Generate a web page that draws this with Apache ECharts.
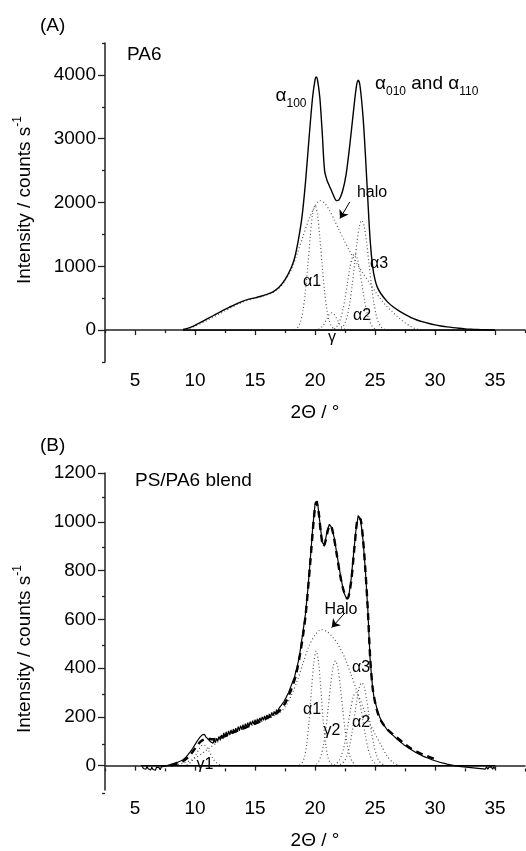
<!DOCTYPE html>
<html><head><meta charset="utf-8">
<script src="https://cdn.jsdelivr.net/npm/echarts@6/dist/echarts.min.js"></script>
<style>html,body{margin:0;padding:0;background:#fff}#c{width:526px;height:851px}</style>
</head><body><div id="c"></div><script>
// ---------- data ----------
const xMajor = [5, 10, 15, 20, 25, 30, 35];
const xMinor = [2.5, 7.5, 12.5, 17.5, 22.5, 27.5, 32.5, 37.5];
const aYMajor = [0, 1000, 2000, 3000, 4000];
const aYMinor = [-500, 500, 1500, 2500, 3500, 4500];
const bYMajor = [0, 200, 400, 600, 800, 1000, 1200];
const bYMinor = [-100, 100, 300, 500, 700, 900, 1100];

// Panel A: PA6
const aMain = [[9.0,10],[9.5,35],[10,75],[10.5,125],[11,175],[11.5,225],[12,275],[12.5,325],[13,370],[13.5,415],[14,455],[14.5,485],[15,505],[15.5,530],[16,560],[16.5,600],[17,670],[17.5,790],[18,970],[18.3,1130],[18.6,1400],[18.9,1750],[19.2,2300],[19.5,3000],[19.8,3650],[20.0,3920],[20.1,3968],[20.2,3930],[20.4,3650],[20.6,3100],[20.8,2500],[21.0,2350],[21.2,2260],[21.5,2130],[21.8,2030],[22.0,2040],[22.3,2180],[22.6,2450],[22.9,2900],[23.2,3420],[23.45,3820],[23.6,3915],[23.75,3830],[24.0,3350],[24.2,2750],[24.4,2050],[24.6,1400],[24.8,1000],[25.0,790],[25.2,670],[25.5,570],[26.0,450],[26.5,365],[27.0,300],[27.5,245],[28,195],[28.5,158],[29,128],[29.5,103],[30,82],[30.5,65],[31,50],[31.5,38],[32,28],[32.5,20],[33,14],[33.5,9],[34,6],[34.5,3],[35,2]];
const aHalo = [[9,0],[9.5,25],[10,60],[10.5,105],[11,150],[11.5,200],[12,250],[12.5,300],[13,350],[13.5,400],[14,440],[14.5,475],[15,500],[15.5,525],[16,555],[16.5,595],[17,660],[17.5,770],[18,940],[18.5,1190],[19,1470],[19.5,1740],[20,1940],[20.4,2030],[20.8,1990],[21.2,1880],[21.6,1730],[22,1570],[22.5,1380],[23,1200],[23.5,1040],[24,890],[24.5,750],[25,610],[25.5,480],[26,370],[26.5,275],[27,190],[27.5,115],[28,55],[28.5,15],[29,0]];
const aAlpha1 = [[18,0],[18.2,5],[18.4,17],[18.6,52],[18.8,136],[19,308],[19.2,599],[19.4,1005],[19.6,1456],[19.8,1819],[20,1958],[20.2,1819],[20.4,1456],[20.6,1005],[20.8,599],[21,308],[21.2,136],[21.4,52],[21.6,17],[21.8,5],[22,0]];
const aGamma = [[20,0],[20.2,8],[20.4,23],[20.6,56],[20.8,111],[21,182],[21.2,245],[21.4,270],[21.6,245],[21.8,182],[22,111],[22.2,56],[22.4,23],[22.6,8],[22.8,0]];
const aAlpha2 = [[21.3,5],[21.5,13],[21.7,34],[21.9,79],[22.1,162],[22.3,299],[22.5,493],[22.7,728],[22.9,961],[23.1,1135],[23.3,1200],[23.5,1135],[23.7,961],[23.9,728],[24.1,493],[24.3,299],[24.5,162],[24.7,79],[24.9,34],[25.1,13],[25.3,5]];
const aAlpha3 = [[21.9,7],[22.1,19],[22.3,49],[22.5,113],[22.7,233],[22.9,429],[23.1,707],[23.3,1043],[23.5,1378],[23.7,1627],[23.9,1720],[24.1,1627],[24.3,1378],[24.5,1043],[24.7,707],[24.9,429],[25.1,233],[25.3,113],[25.5,49],[25.7,19],[25.9,7]];
const aBase = [[9,0],[35,0]];
const aArrow = [[22.9,2010],[22.08,1748]];

// Panel B: PS/PA6 blend (noisy measured curve)
const bMain = [[5.6,-3],[5.7,-12],[5.8,-6],[5.9,-15],[6.0,-4],[6.1,-13],[6.2,-9],[6.3,-18],[6.4,-7],[6.5,-16],[6.6,-10],[6.7,-19],[6.8,-6],[6.9,-14],[7.0,-8],[7.1,-17],[7.2,-5],[7.3,-12],[7.4,-3],[7.5,-11],[7.6,-1],[7.7,-9],[7.8,2],[7.9,-6],[8.0,5],[8.1,-2],[8.2,8],[8.3,1],[8.4,12],[8.5,4],[8.6,15],[8.7,8],[8.8,19],[8.9,12],[9.0,24],
[9.1,18],[9.2,32],[9.3,28],[9.4,44],[9.5,38],[9.6,56],[9.7,52],[9.8,70],[9.9,66],[10.0,86],[10.1,84],[10.2,102],[10.3,98],[10.4,116],[10.5,112],[10.6,126],[10.7,120],[10.8,128],[10.9,118],[11.0,124],[11.1,108],[11.2,114],[11.3,98],[11.4,104],[11.5,92],[11.6,106],[11.7,94],[11.8,112],[11.9,100],[12.0,120],[12.1,106],[12.2,126],[12.3,112],[12.4,134],[12.5,116],[12.6,138],[12.7,120],[12.8,142],[12.9,126],[13.0,146],[13.1,130],[13.2,150],[13.3,134],[13.4,154],[13.5,138],[13.6,160],[13.7,144],[13.8,164],[13.9,148],[14.0,168],[14.1,152],[14.2,172],[14.3,158],[14.4,176],[14.5,160],[14.6,180],[14.7,166],[14.8,184],[14.9,170],[15.0,188],[15.1,174],[15.2,192],[15.3,178],[15.4,196],[15.5,182],[15.6,200],[15.7,186],[15.8,204],[15.9,192],[16.0,208],[16.1,196],[16.2,212],[16.3,200],[16.4,218],[16.5,204],[16.6,222],[16.7,210],[16.8,230],[16.9,218],[17.0,236],[17.1,228],[17.2,248],[17.3,240],[17.4,262],[17.5,256],[17.6,280],[17.7,276],[17.8,300],[17.9,300],[18.0,326],[18.1,330],[18.2,352],[18.3,364],[18.4,386],[18.5,402],[18.6,425],[18.7,450],[18.8,482],
[19.0,550],[19.2,620],[19.4,720],[19.6,840],[19.8,970],[20.0,1070],[20.2,1085],[20.4,1000],[20.6,915],[20.8,905],[21.0,960],[21.2,990],[21.4,975],[21.6,935],[21.8,875],[22.0,815],[22.2,760],[22.4,710],[22.6,688],[22.8,690],[23.0,760],[23.2,860],[23.4,960],[23.6,1025],[23.8,1010],[24.0,925],[24.2,800],[24.4,640],[24.6,430],[24.8,320],
[24.9,285],[25.0,262],[25.1,246],[25.2,226],[25.3,212],[25.4,198],[25.5,190],[25.6,176],[25.7,174],[25.8,162],[25.9,160],[26.0,148],[26.1,150],[26.2,138],[26.3,140],[26.4,128],[26.5,132],[26.6,120],[26.7,122],[26.8,110],[26.9,114],[27.0,102],[27.1,106],[27.2,94],[27.3,98],[27.4,86],[27.5,90],[27.6,79],[27.7,83],[27.8,72],[27.9,77],[28.0,66],[28.1,70],[28.2,60],[28.3,64],[28.4,54],[28.5,59],[28.6,49],[28.7,54],[28.8,44],[28.9,48],[29.0,39],[29.1,44],[29.2,35],[29.3,39],[29.4,31],[29.5,35],[29.6,27],[29.7,31],[29.8,23],[29.9,28],[30.0,20],[30.1,24],[30.2,17],[30.3,21],[30.4,14],[30.5,18],[30.6,11],[30.7,16],[30.8,9],[30.9,13],[31.0,6],[31.1,11],[31.2,4],[31.3,9],[31.4,2],[31.5,8],[31.6,0],[31.7,6],[31.8,-1],[31.9,5],[32.0,-3],[32.1,4],[32.2,-4],[32.3,3],[32.4,-5],[32.5,2],[32.6,-6],[32.7,1],[32.8,-7],[32.9,0],[33.0,-8],[33.1,-1],[33.2,-9],[33.3,-2],[33.4,-10],[33.5,-3],[33.6,-11],[33.7,-3],[33.8,-12],[33.9,-4],[34.0,-13],[34.1,-5],[34.2,-14],[34.3,-5],[34.4,-15],[34.5,-6],[34.6,-14],[34.7,-5],[34.8,-15],[34.9,-6],[35.0,-12]];
const bFit = [[8,0],[8.5,8],[9,18],[9.5,38],[10,70],[10.5,100],[11,110],[11.5,108],[12,112],[12.5,122],[13,132],[13.5,142],[14,152],[14.5,162],[15,172],[15.5,183],[16,195],[16.5,207],[17,222],[17.5,255],[18,310],[18.4,370],[18.8,470],[19.2,610],[19.6,830],[19.9,1010],[20.1,1080],[20.3,1040],[20.5,950],[20.7,900],[20.9,925],[21.1,970],[21.3,985],[21.5,955],[21.8,870],[22.1,780],[22.4,715],[22.7,685],[23.0,750],[23.3,900],[23.6,1015],[23.8,1010],[24.0,930],[24.2,800],[24.4,640],[24.6,440],[24.8,320],[25.0,262],[25.3,205],[25.6,176],[26,150],[26.5,128],[27,108],[27.5,88],[28,70],[28.5,57],[29,45],[29.5,36],[30,27]];
const bHalo = [[8,0],[9,10],[10,30],[11,65],[12,100],[13,130],[14,150],[15,170],[16,190],[17,215],[17.5,240],[18,285],[18.5,345],[19,420],[19.5,490],[20,535],[20.5,558],[21,550],[21.5,525],[22,490],[22.5,440],[23,375],[23.5,305],[24,240],[24.5,180],[25,130],[25.5,85],[26,40],[26.5,12],[27,0]];
const bAlpha1 = [[18.7,2],[18.9,10],[19.1,31],[19.3,83],[19.5,178],[19.7,305],[19.9,422],[20.1,470],[20.3,422],[20.5,305],[20.7,178],[20.9,83],[21.1,31],[21.3,10],[21.5,2]];
const bGamma2 = [[20.1,6],[20.3,17],[20.5,40],[20.7,82],[20.9,149],[21.1,237],[21.3,330],[21.5,402],[21.7,430],[21.9,402],[22.1,330],[22.3,237],[22.5,149],[22.7,82],[22.9,40],[23.1,17],[23.3,6]];
const bAlpha2 = [[21.6,3],[21.8,9],[22,20],[22.2,41],[22.4,75],[22.6,123],[22.8,182],[23,240],[23.2,284],[23.4,300],[23.6,284],[23.8,240],[24,182],[24.2,123],[24.4,75],[24.6,41],[24.8,20],[25,9],[25.2,3]];
const bAlpha3 = [[22.1,4],[22.3,10],[22.5,22],[22.7,46],[22.9,85],[23.1,140],[23.3,206],[23.5,272],[23.7,322],[23.9,340],[24.1,322],[24.3,272],[24.5,206],[24.7,140],[24.9,85],[25.1,46],[25.3,22],[25.5,10],[25.7,4]];
const bGamma1 = [[9.3,3],[9.5,8],[9.7,16],[9.9,29],[10.1,47],[10.3,65],[10.5,80],[10.7,85],[10.9,80],[11.1,65],[11.3,47],[11.5,29],[11.7,16],[11.9,8],[12.1,3]];
const bBase = [[5.5,0],[35,0]];
const bArrow = [[22.5,627],[21.39,566]];

// annotation texts anchored in data coordinates [grid, x, y, text, align]
const notes = [
  [0, 4.33, 4320, 'PA6', 'left'],
  [0, 18.0, 3674, '{g|α}{s|100}', 'center'],
  [0, 25.0, 3863, '{g|α}{s|010}{t| and }{g|α}{s|110}', 'left'],
  [0, 24.75, 2162, 'halo', 'center'],
  [0, 19.75, 761, 'α1', 'center'],
  [0, 25.33, 1044, 'α3', 'center'],
  [0, 23.92, 225, 'α2', 'center'],
  [0, 21.42, -120, 'γ', 'center'],
  [2, 5.0, 1167, 'PS/PA6 blend', 'left'],
  [2, 22.17, 641, 'Halo', 'center'],
  [2, 19.75, 231, 'α1', 'center'],
  [2, 21.42, 145, 'γ2', 'center'],
  [2, 23.83, 402, 'α3', 'center'],
  [2, 23.83, 177, 'α2', 'center'],
  [2, 10.83, 5, 'γ1', 'center']
];

// ---------- chart ----------
const FONT = '"Liberation Sans", Arial, sans-serif';
const AX = '#222';
const chart = echarts.init(document.getElementById('c'));

const gA = {left: 105, top: 43, width: 420, height: 319};
const gB = {left: 105, top: 473, width: 420, height: 320};

function majorX(gi) {
  return {gridIndex: gi, type: 'value', min: 2.5, max: 37.5,
    axisLine: {lineStyle: {color: AX, width: 1.5}},
    axisTick: {customValues: xMajor, length: 5, lineStyle: {color: AX, width: 1.3}},
    axisLabel: {customValues: xMajor, margin: 9, fontSize: 19, color: '#000', fontFamily: FONT, formatter: v => String(v)},
    splitLine: {show: false},
    name: '2Θ / °', nameLocation: 'middle', nameGap: 41,
    nameTextStyle: {fontSize: 19, color: '#000', fontFamily: FONT}};
}
function minorX(gi) {
  return {gridIndex: gi, type: 'value', min: 2.5, max: 37.5,
    axisLine: {show: false},
    axisTick: {customValues: xMinor, length: 3, lineStyle: {color: AX, width: 1.3}},
    axisLabel: {show: false}, splitLine: {show: false}};
}
function majorY(gi, mn, mx, vals) {
  return {gridIndex: gi, type: 'value', min: mn, max: mx,
    axisLine: {show: true, lineStyle: {color: AX, width: 1.5}},
    axisTick: {show: true, customValues: vals, length: 7, lineStyle: {color: AX, width: 1.3}},
    axisLabel: {customValues: vals, margin: 9, fontSize: 19, color: '#000', fontFamily: FONT, formatter: v => String(v)},
    splitLine: {show: false}};
}
function minorY(gi, mn, mx, vals) {
  return {gridIndex: gi, type: 'value', min: mn, max: mx,
    axisLine: {show: false},
    axisTick: {show: true, customValues: vals, length: 3, lineStyle: {color: AX, width: 1.3}},
    axisLabel: {show: false}, splitLine: {show: false}};
}
function dotted(xi, data) {
  return {type: 'line', xAxisIndex: xi, yAxisIndex: xi, data: data, showSymbol: false, smooth: 0.3,
    lineStyle: {color: '#555', width: 1.2, type: [1, 2.5]}, z: 2, silent: true};
}
function solid(xi, data, w, smooth) {
  return {type: 'line', xAxisIndex: xi, yAxisIndex: xi, data: data, showSymbol: false, smooth: smooth,
    lineStyle: {color: '#000', width: w}, z: 3, silent: true};
}
function arrow(xi, pts) {
  return {type: 'line', xAxisIndex: xi, yAxisIndex: xi, data: [], silent: true,
    markLine: {silent: true, symbol: ['none', 'arrow'], symbolSize: 8, animation: false,
      label: {show: false}, lineStyle: {color: '#000', width: 1, type: 'solid'},
      data: [[{coord: pts[0]}, {coord: pts[1]}]]}};
}

chart.setOption({
  animation: false,
  grid: [gA, gA, gB, gB],
  xAxis: [majorX(0), minorX(1), majorX(2), minorX(3)],
  yAxis: [majorY(0, -500, 4500, aYMajor), minorY(1, -500, 4500, aYMinor),
          majorY(2, -100, 1200, bYMajor), minorY(3, -100, 1200, bYMinor)],
  series: [
    dotted(0, aHalo), dotted(0, aAlpha1), dotted(0, aGamma), dotted(0, aAlpha2), dotted(0, aAlpha3),
    solid(0, aBase, 1.3, false), solid(0, aMain, 1.4, 0.3), arrow(0, aArrow),
    dotted(2, bHalo), dotted(2, bAlpha1), dotted(2, bGamma2), dotted(2, bAlpha2), dotted(2, bAlpha3), dotted(2, bGamma1),
    solid(2, bBase, 1.3, false), solid(2, bMain, 1.2, false),
    {type: 'line', xAxisIndex: 2, yAxisIndex: 2, data: bFit, showSymbol: false, smooth: 0.3, silent: true, z: 4,
      lineStyle: {color: '#000', width: 2.4, type: [7, 5]}},
    arrow(2, bArrow)
  ]
});

const rich = {
  g: {fontSize: 19, fontFamily: FONT, fill: '#000'},
  s: {fontSize: 12, fontFamily: FONT, fill: '#000', padding: [16, 0, 0, 0]},
  t: {fontSize: 19, fontFamily: FONT, fill: '#000'},
  p: {fontSize: 12, fontFamily: FONT, fill: '#000', padding: [0, 0, 14, 0]},
  n: {fontSize: 19, fontFamily: FONT, fill: '#000'}
};
const graphics = [];
notes.forEach(n => {
  const p = chart.convertToPixel({gridIndex: n[0]}, [n[1], n[2]]);
  const big = (n[3] === 'PA6' || n[3] === 'PS/PA6 blend' || n[3].indexOf('{') === 0);
  graphics.push({type: 'text', x: p[0], y: p[1], silent: true,
    style: {text: n[3], rich: rich, fontSize: big ? 19 : 16, fontFamily: FONT, fill: '#000',
      align: n[4], verticalAlign: 'middle', textAlign: n[4], textVerticalAlign: 'middle'}});
});
// panel labels and y-axis names
graphics.push({type: 'text', left: 40, top: 16, style: {text: '(A)', fontSize: 19, fontFamily: FONT, fill: '#000'}});
graphics.push({type: 'text', left: 40, top: 436, style: {text: '(B)', fontSize: 19, fontFamily: FONT, fill: '#000'}});
[[200], [649]].forEach(c => {
  graphics.push({type: 'text', x: 25, y: c[0], rotation: Math.PI / 2, silent: true,
    style: {text: '{n|Intensity / counts s}{p|-1}', rich: rich, align: 'center', verticalAlign: 'middle',
      textAlign: 'center', textVerticalAlign: 'middle'}});
});
chart.setOption({graphic: graphics});
</script></body></html>
